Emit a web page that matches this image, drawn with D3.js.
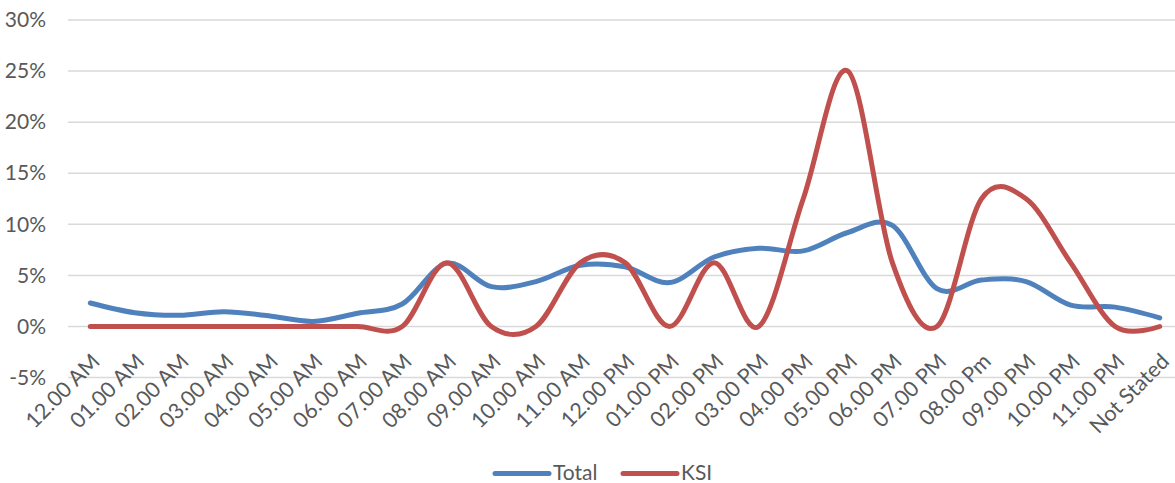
<!DOCTYPE html>
<html>
<head>
<meta charset="utf-8">
<script src="https://cdn.jsdelivr.net/npm/d3@7"></script>
<style>
  html, body { margin: 0; padding: 0; background: #fff; }
  svg { display: block; font-family: Lato, "Open Sans", sans-serif; }
</style>
</head>
<body>
<svg id="chart" width="1175" height="483"></svg>
<script>
// Share of collisions by hour of day
const hours = ["12.00 AM", "01.00 AM", "02.00 AM", "03.00 AM", "04.00 AM", "05.00 AM",
  "06.00 AM", "07.00 AM", "08.00 AM", "09.00 AM", "10.00 AM", "11.00 AM", "12.00 PM",
  "01.00 PM", "02.00 PM", "03.00 PM", "04.00 PM", "05.00 PM", "06.00 PM", "07.00 PM",
  "08.00 Pm", "09.00 PM", "10.00 PM", "11.00 PM", "Not Stated"];

const totalPct = [2.3, 1.35, 1.1, 1.45, 1.05, 0.5, 1.3, 2.2, 6.2, 3.9, 4.4, 6.0, 5.85,
  4.3, 6.8, 7.65, 7.4, 9.2, 9.9, 3.7, 4.55, 4.4, 2.1, 1.9, 0.85];

const ksiPct = [0, 0, 0, 0, 0, 0, 0, 0, 6.25, 0, 0, 6.25, 6.25,
  0, 6.25, 0, 12.5, 25, 6.25, 0, 12.5, 12.5, 6.25, 0, 0];

const yTicks = [-5, 0, 5, 10, 15, 20, 25, 30];

const seriesNames = ["Total", "KSI"];
const seriesColors = ["#4F81BD", "#C0504D"];

const svg = d3.select("#chart");
const textColor = "#595959";

const x = d3.scaleBand().domain(hours).range([68, 1182]).padding(0);
const y = d3.scaleLinear().domain([-5, 30]).range([377.6, 20]);
const cx = d => x(d) + x.bandwidth() / 2;

// horizontal gridlines
svg.append("g")
  .selectAll("line")
  .data(yTicks)
  .join("line")
  .attr("x1", 68)
  .attr("x2", 1182)
  .attr("y1", d => y(d))
  .attr("y2", d => y(d))
  .attr("stroke", "#d9d9d9")
  .attr("stroke-width", 1.5);

// y-axis labels
const yAxis = d3.axisLeft(y).tickValues(yTicks).tickFormat(d => d + "%").tickSize(0).tickPadding(0);
svg.append("g")
  .attr("transform", "translate(46,0)")
  .call(yAxis)
  .call(g => g.select(".domain").remove())
  .call(g => g.selectAll("text")
    .attr("fill", textColor)
    .attr("font-size", 21)
    .attr("font-family", "Lato, 'Open Sans', sans-serif"));

// rotated category labels
svg.append("g")
  .selectAll("text")
  .data(hours)
  .join("text")
  .attr("transform", d => `translate(${cx(d) + 5.5},357.5) rotate(-45)`)
  .attr("text-anchor", "end")
  .attr("dy", "0.35em")
  .attr("fill", textColor)
  .attr("font-size", 21.5)
  .text(d => d);

// smoothed series lines
const line = d3.line()
  .x((d, i) => cx(hours[i]))
  .y(d => y(d))
  .curve(d3.curveCardinal.tension(0));

[totalPct, ksiPct].forEach((vals, k) => {
  svg.append("path")
    .datum(vals)
    .attr("d", line)
    .attr("fill", "none")
    .attr("stroke", seriesColors[k])
    .attr("stroke-width", 5)
    .attr("stroke-linecap", "round")
    .attr("stroke-linejoin", "round");
});

// legend
const legendX = [495, 623];
const legend = svg.append("g");
seriesNames.forEach((name, k) => {
  legend.append("line")
    .attr("x1", legendX[k])
    .attr("x2", legendX[k] + 54)
    .attr("y1", 473.5)
    .attr("y2", 473.5)
    .attr("stroke", seriesColors[k])
    .attr("stroke-width", 5)
    .attr("stroke-linecap", "round");
  legend.append("text")
    .attr("x", legendX[k] + 58)
    .attr("y", 473)
    .attr("dy", "0.35em")
    .attr("fill", textColor)
    .attr("font-size", 21)
    .text(name);
});
</script>
</body>
</html>
